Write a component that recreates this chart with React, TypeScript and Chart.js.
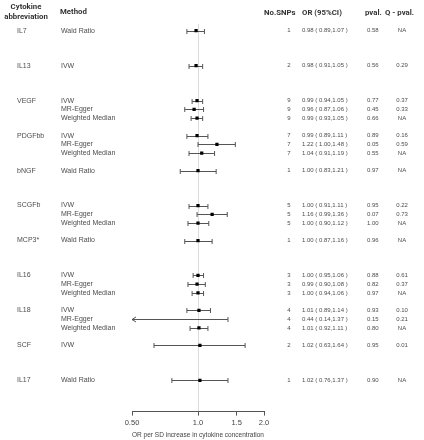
import React, { useEffect, useRef } from 'react'
import { Chart, registerables, type ChartConfiguration, type Plugin } from 'chart.js'

Chart.register(...registerables)

// one entry per table row; group = cytokine
const cytokines = ['IL7', 'IL13', 'VEGF', 'PDGFbb', 'bNGF', 'SCGFb', 'MCP3*', 'IL16', 'IL18', 'SCF', 'IL17']
const groupOfRow = [0, 1, 2, 2, 2, 3, 3, 3, 4, 5, 5, 5, 6, 7, 7, 7, 8, 8, 8, 9, 10]
const methods = [
  'Wald Ratio', 'IVW',
  'IVW', 'MR-Egger', 'Weighted Median',
  'IVW', 'MR-Egger', 'Weighted Median',
  'Wald Ratio',
  'IVW', 'MR-Egger', 'Weighted Median',
  'Wald Ratio',
  'IVW', 'MR-Egger', 'Weighted Median',
  'IVW', 'MR-Egger', 'Weighted Median',
  'IVW', 'Wald Ratio',
]
const nSnps = [1, 2, 9, 9, 9, 7, 7, 7, 1, 5, 5, 5, 1, 3, 3, 3, 4, 4, 4, 2, 1]
const orVals = [0.98, 0.98, 0.99, 0.96, 0.99, 0.99, 1.22, 1.04, 1.00, 1.00, 1.16, 1.00, 1.00, 1.00, 0.99, 1.00, 1.01, 0.44, 1.01, 1.02, 1.02]
const ciLow = [0.89, 0.91, 0.94, 0.87, 0.93, 0.89, 1.00, 0.91, 0.83, 0.91, 0.99, 0.90, 0.87, 0.95, 0.90, 0.94, 0.89, 0.14, 0.92, 0.63, 0.76]
const ciHigh = [1.07, 1.05, 1.05, 1.06, 1.05, 1.11, 1.48, 1.19, 1.21, 1.11, 1.36, 1.12, 1.16, 1.06, 1.08, 1.06, 1.14, 1.37, 1.11, 1.64, 1.37]
const pVals = ['0.58', '0.56', '0.77', '0.45', '0.66', '0.89', '0.05', '0.55', '0.97', '0.95', '0.07', '1.00', '0.96', '0.88', '0.82', '0.97', '0.93', '0.15', '0.80', '0.95', '0.90']
const qVals = ['NA', '0.29', '0.37', '0.33', 'NA', '0.16', '0.59', 'NA', 'NA', '0.22', '0.73', 'NA', 'NA', '0.61', '0.37', 'NA', '0.10', '0.21', 'NA', '0.01', 'NA']

const tickValues = [0.5, 1.0, 1.5, 2.0]
const tickLabels = ['0.50', '1.0', '1.5', '2.0']
const xMin = 0.5
const xMax = 2.0

// each cytokine block takes 4 row slots
const rowPos = groupOfRow.map((g, i) => g * 4 + groupOfRow.slice(0, i).filter(x => x === g).length)

const fmt = (v: number) => v.toFixed(2)
const orText = orVals.map((v, i) => `${fmt(v)} ( ${fmt(ciLow[i])},${fmt(ciHigh[i])} )`)

const TXT = '#4d4d4d'
const BAR = '#555555'
const labelFont = '7px "Liberation Sans", Arial, sans-serif'
const numFont = '6px "Liberation Sans", Arial, sans-serif'
const headFont = 'bold 7.8px Roboto, "Noto Sans", sans-serif'

const errorBars: Plugin = {
  id: 'errorBars',
  beforeDatasetsDraw(chart) {
    const { ctx, scales: { x, y } } = chart
    ctx.save()
    ctx.strokeStyle = BAR
    ctx.lineWidth = 1
    rowPos.forEach((p, i) => {
      const py = Math.round(y.getPixelForValue(p)) + 0.5
      const x1 = x.getPixelForValue(Math.max(ciLow[i], xMin))
      const x2 = x.getPixelForValue(Math.min(ciHigh[i], xMax))
      ctx.beginPath()
      ctx.moveTo(x1, py)
      ctx.lineTo(x2, py)
      ctx.stroke()
      const caps: number[] = []
      if (ciLow[i] >= xMin) caps.push(x1)
      if (ciHigh[i] <= xMax) caps.push(x2)
      caps.forEach(cx => {
        ctx.beginPath()
        ctx.moveTo(cx, py - 2.5)
        ctx.lineTo(cx, py + 2.5)
        ctx.stroke()
      })
      // arrow where the interval runs off the axis
      if (ciLow[i] < xMin) {
        ctx.beginPath()
        ctx.moveTo(x1 + 4, py - 2.5)
        ctx.lineTo(x1, py)
        ctx.lineTo(x1 + 4, py + 2.5)
        ctx.stroke()
      }
    })
    ctx.restore()
  },
}

const tableText: Plugin = {
  id: 'tableText',
  afterDraw(chart) {
    const { ctx, scales: { y } } = chart
    ctx.save()
    ctx.textBaseline = 'middle'
    // header
    ctx.fillStyle = '#333'
    ctx.font = headFont
    ctx.textAlign = 'center'
    ctx.fillText('Cytokine', 26, 7)
    ctx.fillText('abbreviation', 26, 17)
    ctx.textAlign = 'left'
    ctx.fillText('Method', 60, 12)
    ctx.fillText('No.SNPs', 264, 13)
    ctx.fillText('OR (95%CI)', 302, 13)
    ctx.fillText('pval.', 365, 13)
    ctx.fillText('Q - pval.', 385, 13)
    // rows
    ctx.fillStyle = TXT
    rowPos.forEach((p, i) => {
      const py = y.getPixelForValue(p)
      ctx.font = labelFont
      ctx.textAlign = 'left'
      if (p % 4 === 0) ctx.fillText(cytokines[groupOfRow[i]], 17, py)
      ctx.fillText(methods[i], 61, py)
      ctx.font = numFont
      ctx.fillText(orText[i], 302, py)
      ctx.fillText(pVals[i], 367, py)
      ctx.textAlign = 'center'
      ctx.fillText(String(nSnps[i]), 289, py)
      ctx.fillText(qVals[i], 402, py)
    })
    ctx.restore()
  },
}

export default function App() {
  const canvasRef = useRef<HTMLCanvasElement>(null)
  const chartRef = useRef<Chart | null>(null)

  useEffect(() => {
    if (!canvasRef.current) return
    chartRef.current?.destroy()

    const cfg: ChartConfiguration = {
      type: 'scatter',
      data: {
        datasets: [
          {
            data: rowPos.map((p, i) => ({ x: orVals[i], y: p })),
            pointStyle: 'rect',
            pointRadius: 2.3,
            pointBorderWidth: 0,
            backgroundColor: '#000',
            borderColor: '#000',
          },
        ],
      },
      options: {
        responsive: true,
        maintainAspectRatio: false,
        animation: false,
        layout: { padding: { left: 132, right: 160, top: 24, bottom: 0 } },
        plugins: { legend: { display: false }, tooltip: { enabled: false } },
        scales: {
          x: {
            type: 'logarithmic',
            min: xMin,
            max: xMax,
            afterBuildTicks: scale => { scale.ticks = tickValues.map(v => ({ value: v })) },
            ticks: {
              autoSkip: false,
              maxRotation: 0,
              padding: 3,
              color: '#444',
              font: { family: '"Liberation Sans", Arial, sans-serif', size: 7.5 },
              callback: (_v: any, i: number) => tickLabels[i],
            },
            grid: {
              display: true,
              drawOnChartArea: true,
              drawTicks: true,
              tickLength: 4,
              tickColor: '#555',
              color: (c: any) => (c.tick && c.tick.value === 1 ? '#dcdcdc' : 'rgba(0,0,0,0)'),
            },
            border: { display: true, color: '#555', width: 1 },
            title: {
              display: true,
              text: 'OR per SD increase in cytokine concentration',
              color: '#444',
              font: { family: '"Liberation Sans", Arial, sans-serif', size: 7 },
              padding: { top: 0, bottom: 1 },
            },
          },
          y: { type: 'linear', reverse: true, min: -0.77, max: 43.57, display: false },
        },
      },
      plugins: [errorBars, tableText],
    }
    chartRef.current = new Chart(canvasRef.current, cfg)
    return () => { chartRef.current?.destroy() }
  }, [])

  return (
    <div style={{ position: 'fixed', left: 0, top: 0, width: 424, height: 440, background: '#fff' }}>
      <canvas ref={canvasRef} />
    </div>
  )
}
